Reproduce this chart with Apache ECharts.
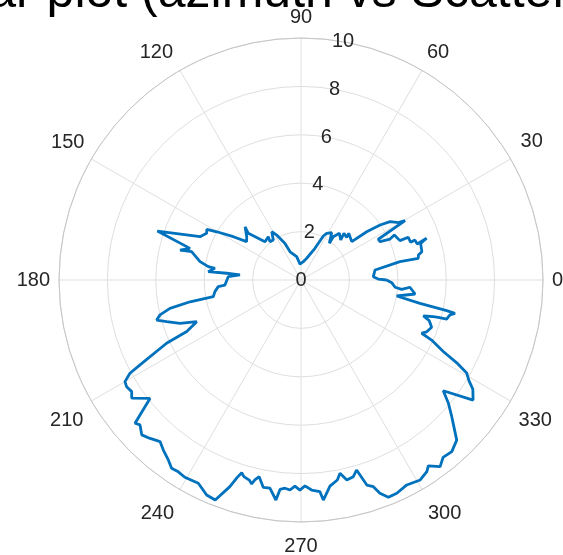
<!DOCTYPE html>
<html>
<head>
<meta charset="utf-8">
<script src="https://cdn.jsdelivr.net/npm/echarts@6/dist/echarts.min.js"></script>
<style>
  html, body { margin: 0; padding: 0; background: #ffffff; }
  #chart { width: 563px; height: 555px; }
</style>
</head>
<body>
<div id="chart"></div>
<script>
// Azimuth (degrees) and scattering magnitude along the traced pattern
const azimuthDeg = [0, 0.7, 2.6, 7.7, 10.5, 10.5, 12.0, 13.2, 17.0, 18.4,
  17.2, 19.3, 19.0, 21.7, 21.7, 25.7, 24.7, 25.9, 27.8, 29.7,
  30.5, 33.2, 34.8, 36.3, 37.1, 44.4, 43.0, 47.4, 45.2, 50.6,
  53.3, 52.4, 57.0, 61.2, 63.1, 66.2, 75.3, 83.7, 93.6, 100.5,
  111.2, 113.6, 118.4, 121.2, 124.7, 129.0, 127.1, 133.2, 138.5, 136.4,
  141.4, 144.8, 147.4, 150.2, 151.7, 153.7, 156.8, 161.2, 164.1, 166.1,
  165.5, 169.7, 171.8, 172.3, 174.9, 174.8, 175.3, 177.4, 183.8, 184.6,
  187.7, 190.8, 191.1, 192.2, 193.9, 195.5, 197.2, 199.7, 201.8, 204.3,
  205.2, 207.8, 208.6, 210.0, 211.5, 213.4, 214.9, 218.1, 220.8, 222.0,
  224.2, 226.4, 228.9, 231.0, 233.6, 235.5, 237.4, 239.5, 243.2, 246.3,
  248.7, 251.0, 252.1, 252.9, 253.8, 255.5, 256.4, 257.0, 258.0, 259.7,
  261.5, 263.5, 264.3, 265.6, 267.0, 268.3, 269.7, 271.1, 272.9, 275.1,
  275.8, 278.0, 280.3, 281.4, 282.9, 284.9, 286.3, 287.8, 289.3, 290.3,
  291.9, 294.2, 297.3, 300.8, 303.3, 304.4, 306.7, 308.7, 311.3, 314.2,
  316.7, 317.8, 320.1, 322.1, 325.1, 327.6, 329.0, 330.7, 332.0, 333.3,
  335.3, 336.2, 337.6, 340.1, 342.4, 343.6, 344.5, 344.8, 345.0, 346.8,
  347.8, 348.1, 348.9, 350.5, 353.0, 356.2, 354.7, 355.6, 358.3, 360];

const scatterMag = [3.54, 3.19, 2.99, 3.09, 4.16, 4.93, 4.96, 5.13, 5.17, 5.47,
  5.03, 4.99, 4.79, 4.77, 4.40, 4.28, 4.05, 3.63, 3.61, 4.95,
  4.67, 4.40, 3.98, 3.37, 2.63, 2.76, 2.58, 2.62, 2.33, 2.50,
  2.23, 1.92, 2.33, 2.20, 2.04, 1.43, 0.93, 0.75, 0.66, 0.98,
  1.25, 1.65, 2.11, 2.33, 2.01, 2.04, 2.24, 2.17, 2.91, 3.19,
  2.87, 2.75, 3.32, 4.01, 4.42, 4.35, 4.54, 6.27, 4.77, 5.15,
  4.67, 4.24, 3.87, 3.59, 3.85, 3.08, 2.53, 3.01, 3.15, 3.43,
  3.59, 3.69, 4.67, 5.54, 6.00, 6.19, 5.81, 5.31, 4.64, 5.18,
  6.14, 7.52, 8.05, 8.40, 8.45, 8.38, 8.53, 7.93, 9.06, 8.95,
  9.18, 9.04, 8.86, 9.04, 9.24, 9.44, 9.41, 9.46, 9.41, 9.70,
  9.76, 9.03, 8.57, 8.33, 8.46, 8.54, 8.67, 8.48, 8.31, 8.71,
  8.70, 9.15, 8.69, 8.63, 8.69, 8.52, 8.68, 8.51, 8.69, 8.78,
  9.14, 8.60, 8.40, 8.15, 8.48, 8.41, 8.18, 8.90, 9.05, 9.40,
  9.68, 9.66, 9.53, 9.62, 9.47, 9.31, 9.62, 9.39, 9.44, 9.23,
  8.64, 8.41, 7.94, 7.45, 8.67, 8.41, 8.10, 7.85, 7.29, 6.58,
  5.94, 5.45, 5.62, 5.74, 5.56, 5.27, 5.67, 5.88, 6.23, 6.32,
  6.51, 6.15, 5.01, 4.01, 4.75, 4.51, 4.18, 3.90, 3.75, 3.54];

// Axis ticks
const thetaTicks = [0, 30, 60, 90, 120, 150, 180, 210, 240, 270, 300, 330];
const rTicks = [0, 2, 4, 6, 8, 10];

const titleText = 'Polar plot (azimuth vs Scattering)';

const FONT = 'Liberation Sans, Helvetica, Arial, sans-serif';
const TICK_COLOR = '#262626';
const GRID_COLOR = '#dfdfdf';

// Extra spacing [top, right, bottom, left] so each angle label sits on a common ring
const thetaLabelPad = {
  0: [0, 0, 0, 1],
  30: [0, 0, 4, 3],
  60: [0, 0, 1, 1],
  90: [0, 0, 3, 0],
  120: [0, 3, 1, 0],
  150: [0, 0, 3, 0],
  180: [0, 1, 0, 0],
  210: [5, 1, 0, 0],
  240: [7, 2, 0, 0],
  270: [6, 0, 0, 0],
  300: [7, 0, 0, 2],
  330: [5, 0, 0, 1]
};

const thetaRich = {};
thetaTicks.forEach(t => {
  thetaRich['t' + t] = {
    padding: thetaLabelPad[t],
    fontSize: 20,
    fontFamily: FONT,
    color: TICK_COLOR
  };
});

const seriesData = azimuthDeg.map((a, i) => [scatterMag[i], a]);

const chart = echarts.init(document.getElementById('chart'), null, { renderer: 'canvas' });

chart.setOption({
  animation: false,
  backgroundColor: '#ffffff',
  title: {
    text: titleText,
    left: -89,
    top: -37,
    textStyle: { fontSize: 50, fontWeight: 'normal', color: '#000000', fontFamily: FONT }
  },
  polar: [
    { center: [301, 280], radius: 242 },
    { center: [301, 280], radius: 242 }
  ],
  angleAxis: [
    {
      polarIndex: 0,
      type: 'value',
      min: 0,
      max: 360,
      interval: 30,
      startAngle: 0,
      clockwise: false,
      axisLine: { show: true, lineStyle: { color: '#c6c6c6', width: 1 } },
      axisTick: { show: false },
      axisLabel: {
        show: true,
        margin: 8,
        color: TICK_COLOR,
        fontSize: 20,
        fontFamily: FONT,
        formatter: v => (thetaTicks.indexOf(v) >= 0 ? '{t' + v + '|' + v + '}' : ''),
        rich: thetaRich
      },
      splitLine: { show: true, lineStyle: { color: GRID_COLOR, width: 1 } }
    },
    {
      polarIndex: 1,
      type: 'value',
      min: 0,
      max: 360,
      startAngle: 80,
      clockwise: false,
      show: false
    }
  ],
  radiusAxis: [
    {
      polarIndex: 0,
      type: 'value',
      min: 0,
      max: 10,
      interval: 2,
      axisLine: { show: false },
      axisTick: { show: false },
      axisLabel: { show: false },
      splitLine: { show: true, lineStyle: { color: GRID_COLOR, width: 1 } }
    },
    {
      polarIndex: 1,
      type: 'value',
      min: 0,
      max: 10,
      interval: 2,
      axisLine: { show: false },
      axisTick: { show: false },
      splitLine: { show: false },
      axisLabel: {
        show: true,
        margin: 0,
        rotate: 0,
        align: 'center',
        verticalAlign: 'middle',
        padding: [3, 0, 0, 0],
        color: TICK_COLOR,
        fontSize: 20,
        fontFamily: FONT,
        formatter: v => (rTicks.indexOf(v) >= 0 ? String(v) : '')
      }
    }
  ],
  series: [
    {
      type: 'line',
      coordinateSystem: 'polar',
      polarIndex: 0,
      data: seriesData,
      showSymbol: false,
      smooth: false,
      lineStyle: { color: '#0072BD', width: 2.8 },
      z: 5
    }
  ]
});
</script>
</body>
</html>
